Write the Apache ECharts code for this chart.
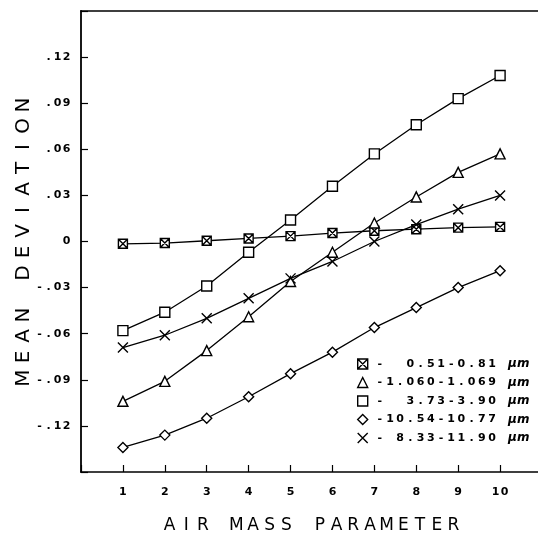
<!DOCTYPE html>
<html>
<head>
<meta charset="utf-8">
<script src="https://cdn.jsdelivr.net/npm/echarts@6/dist/echarts.min.js"></script>
<style>
html,body{margin:0;padding:0;background:#fff;}
#chart{width:538px;height:533px;}
</style>
</head>
<body>
<div id="chart"></div>
<script>
// ---- data ----
const airMass = [1, 2, 3, 4, 5, 6, 7, 8, 9, 10];
const seriesNames = ['-  0.51-0.81', '-1.060-1.069', '-  3.73-3.90', '-10.54-10.77', '- 8.33-11.90'];
const band051 = [-0.0015, -0.001, 0.0005, 0.002, 0.0035, 0.0055, 0.007, 0.008, 0.009, 0.0095];
const band106 = [-0.104, -0.091, -0.071, -0.049, -0.026, -0.007, 0.012, 0.029, 0.045, 0.057];
const band373 = [-0.058, -0.046, -0.029, -0.007, 0.014, 0.036, 0.057, 0.076, 0.093, 0.108];
const band1054 = [-0.134, -0.126, -0.115, -0.101, -0.086, -0.072, -0.056, -0.043, -0.030, -0.019];
const band833 = [-0.069, -0.061, -0.050, -0.037, -0.024, -0.013, 0.000, 0.011, 0.021, 0.030];
const xTitle = 'AIR MASS PARAMETER';
const yTitle = 'MEAN DEVIATION';
const unitText = 'μm';

// ---- styling helpers ----
function spaced(str, style) {
  return str.split('').map(c => '{' + style + '|' + c + '}').join('');
}
const boxX = 'path://M0,0L10,0L10,10L0,10ZM0,0L10,10M10,0L0,10';
const crossX = 'path://M0,0L10,10M10,0L0,10';
const symbols = [boxX, 'triangle', 'rect', 'diamond', crossX];
const symSizes = [9, 10, 10, 10, 10];
const allData = [band051, band106, band373, band1054, band833];

const chart = echarts.init(document.getElementById('chart'), null, {renderer: 'canvas'});

const series = allData.map((vals, i) => ({
  name: seriesNames[i],
  type: 'line',
  data: airMass.map((x, k) => [x, vals[k]]),
  symbol: symbols[i],
  symbolSize: symSizes[i],
  showAllSymbol: true,
  lineStyle: {color: '#000', width: 1.3},
  itemStyle: {color: '#fff', borderColor: '#000', borderWidth: 1.4},
  emphasis: {disabled: true},
  z: 3
}));

const tickFont = {fontFamily: 'DejaVu Sans', fontWeight: 'bold', fontSize: 11, color: '#000', width: 9, align: 'center'};

const option = {
  animation: false,
  backgroundColor: '#fff',
  grid: {left: 81, top: 11, right: -4, bottom: 61, containLabel: false, outerBoundsMode: 'none'},
  xAxis: [{
    type: 'value', min: 0, max: 11, interval: 1,
    position: 'bottom',
    axisLine: {show: true, onZero: false, lineStyle: {color: '#000', width: 1.6}},
    axisTick: {show: true, inside: true, length: 7, lineStyle: {color: '#000', width: 1.2}},
    splitLine: {show: false},
    axisLabel: {
      margin: 15,
      formatter: v => (v >= 1 && v <= 10) ? spaced(String(Math.round(v)), 't') : '',
      rich: {t: tickFont}
    },
    name: spaced(xTitle, 'n'),
    nameLocation: 'middle',
    nameMoveOverlap: false,
    nameGap: 45,
    nameTextStyle: {rich: {n: {fontFamily: 'DejaVu Sans', fontSize: 17, color: '#000', width: 16.7, align: 'center', lineHeight: 17}}}
  }, {
    type: 'value', min: 0, max: 11, position: 'top',
    axisLine: {show: true, onZero: false, lineStyle: {color: '#000', width: 1.6}},
    axisTick: {show: false}, axisLabel: {show: false}, splitLine: {show: false}
  }],
  yAxis: {
    type: 'value', min: -0.15, max: 0.15, interval: 0.03,
    axisLine: {show: true, onZero: false, lineStyle: {color: '#000', width: 1.8}},
    axisTick: {show: true, inside: true, length: 7, lineStyle: {color: '#000', width: 1.2}},
    splitLine: {show: false},
    axisLabel: {
      margin: 10,
      formatter: function (v) {
        const r = Math.round(v * 100) / 100;
        if (Math.abs(r) > 0.13) return '';
        if (r === 0) return spaced('0', 't');
        const s = (r < 0 ? '-' : '') + '.' + Math.abs(r).toFixed(2).split('.')[1];
        return spaced(s, 't');
      },
      rich: {t: tickFont}
    },
    name: spaced(yTitle, 'n'),
    nameLocation: 'middle',
    nameRotate: 90,
    nameMoveOverlap: false,
    nameGap: 47,
    nameTextStyle: {rich: {n: {fontFamily: 'DejaVu Sans', fontSize: 20, color: '#000', width: 21, align: 'center', lineHeight: 20}}}
  },
  legend: {
    show: true,
    orient: 'vertical',
    left: 352, top: 353,
    itemWidth: 10, itemHeight: 10, itemGap: 6.5,
    selectedMode: false,
    data: seriesNames.map((n, i) => ({name: n, icon: symbols[i]})),
    itemStyle: {color: '#fff', borderColor: '#000', borderWidth: 1.4},
    formatter: function (name) {
      return '{s|}' + spaced(name, 'c') + '{g|}' + '{mu|' + unitText + '}';
    },
    textStyle: {
      lineHeight: 12,
      rich: {
        c: {fontFamily: 'DejaVu Sans', fontWeight: 'bold', fontSize: 11, color: '#000', width: 10.2, align: 'center', lineHeight: 12},
        s: {width: 2, fontSize: 11, lineHeight: 12},
        g: {width: 11, fontSize: 11, lineHeight: 12},
        mu: {fontFamily: 'DejaVu Sans', fontWeight: 'bold', fontStyle: 'italic', fontSize: 12, color: '#000', lineHeight: 12}
      }
    }
  },
  series: series
};
chart.setOption(option);
</script>
</body>
</html>
